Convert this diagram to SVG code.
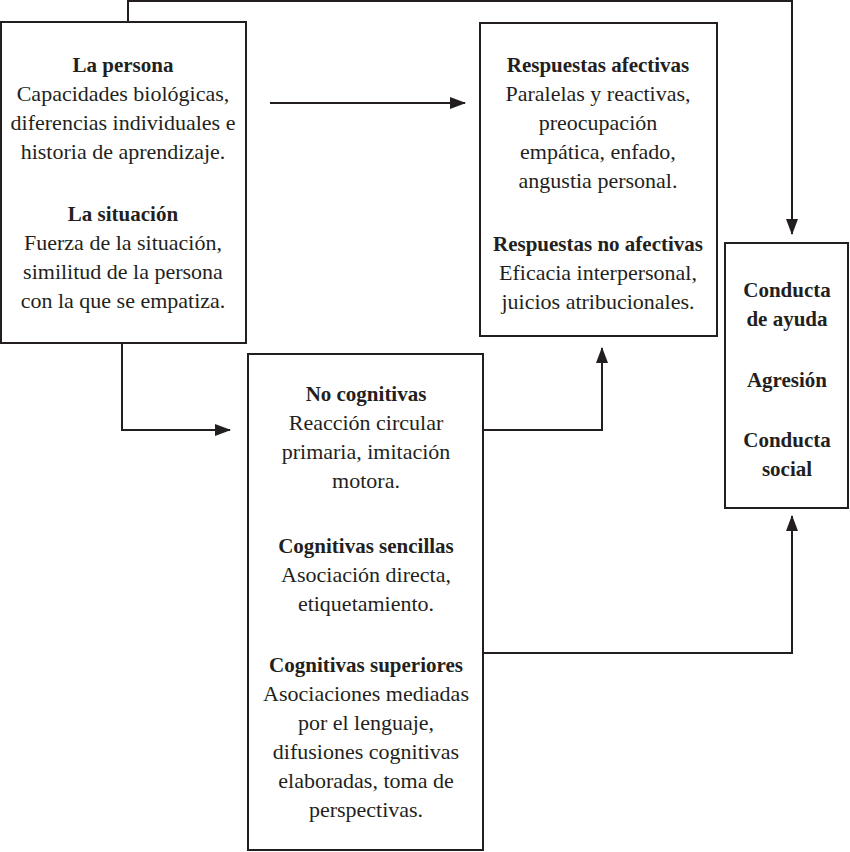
<svg xmlns="http://www.w3.org/2000/svg" width="850" height="852" viewBox="0 0 850 852">
<style>
.b{fill:#fff;stroke:#231f20;stroke-width:2}
text{font-family:"Liberation Serif",serif;font-size:22px;fill:#231f20;text-anchor:middle}
.h{font-weight:bold;font-size:21px}
.c{fill:none;stroke:#231f20;stroke-width:2}
</style>
<defs><marker id="a" markerWidth="16" markerHeight="12" refX="15" refY="6" orient="auto" markerUnits="userSpaceOnUse" viewBox="0 0 16 12"><path d="M0,0 L16,6 L0,12 z" fill="#231f20"/></marker></defs>
<rect width="850" height="852" fill="#fff"/>
<g id="connectors">
<path class="c" d="M128,22 V1 H792 V234" marker-end="url(#a)"/>
<path class="c" d="M270,103 H465" marker-end="url(#a)"/>
<path class="c" d="M122,343 V430 H230" marker-end="url(#a)"/>
<path class="c" d="M483,430 H602 V348" marker-end="url(#a)"/>
<path class="c" d="M483,653 H792 V516" marker-end="url(#a)"/>
</g>
<g id="n1"><rect class="b" x="1" y="22" width="245" height="321"/>
<text x="123" y="72" class="h">La persona</text>
<text x="123" y="101">Capacidades biológicas,</text>
<text x="123" y="130">diferencias individuales e</text>
<text x="123" y="159">historia de aprendizaje.</text>
<text x="123" y="221" class="h">La situación</text>
<text x="123" y="250">Fuerza de la situación,</text>
<text x="123" y="279">similitud de la persona</text>
<text x="123" y="308">con la que se empatiza.</text></g>
<g id="n2"><rect class="b" x="480" y="23" width="237" height="313"/>
<text x="598" y="72" class="h">Respuestas afectivas</text>
<text x="598" y="101">Paralelas y reactivas,</text>
<text x="598" y="130">preocupación</text>
<text x="598" y="159">empática, enfado,</text>
<text x="598" y="188">angustia personal.</text>
<text x="598" y="251" class="h">Respuestas no afectivas</text>
<text x="598" y="280">Eficacia interpersonal,</text>
<text x="598" y="309">juicios atribucionales.</text></g>
<g id="n3"><rect class="b" x="725" y="243" width="123" height="265"/>
<text x="787" y="297" class="h">Conducta</text>
<text x="787" y="326" class="h">de ayuda</text>
<text x="787" y="387" class="h">Agresión</text>
<text x="787" y="447" class="h">Conducta</text>
<text x="787" y="476" class="h">social</text></g>
<g id="n4"><rect class="b" x="248" y="354" width="235" height="496"/>
<text x="366" y="401" class="h">No cognitivas</text>
<text x="366" y="430">Reacción circular</text>
<text x="366" y="459">primaria, imitación</text>
<text x="366" y="488">motora.</text>
<text x="366" y="553" class="h">Cognitivas sencillas</text>
<text x="366" y="582">Asociación directa,</text>
<text x="366" y="611">etiquetamiento.</text>
<text x="366" y="672" class="h">Cognitivas superiores</text>
<text x="366" y="701">Asociaciones mediadas</text>
<text x="366" y="730">por el lenguaje,</text>
<text x="366" y="759">difusiones cognitivas</text>
<text x="366" y="788">elaboradas, toma de</text>
<text x="366" y="817">perspectivas.</text></g>
</svg>
